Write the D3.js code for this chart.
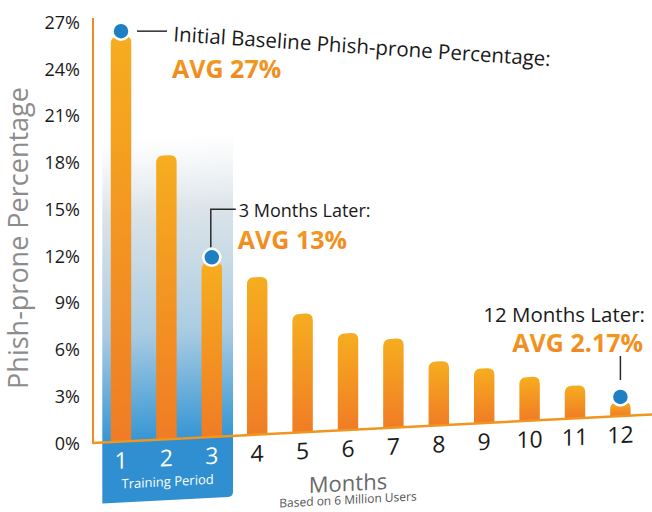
<!DOCTYPE html>
<html>
<head>
<meta charset="utf-8">
<script src="https://cdn.jsdelivr.net/npm/d3@7"></script>
<style>
  body { margin: 0; background: #fff; }
  text { font-family: "Open Sans", "Noto Sans", sans-serif; }
</style>
</head>
<body>
<div id="chart"></div>
<script>
// Data
const months = ["1", "2", "3", "4", "5", "6", "7", "8", "9", "10", "11", "12"];
const phishProne = [26.0, 18.2, 11.2, 10.1, 7.6, 6.2, 5.7, 4.1, 3.5, 2.8, 2.1, 0.9];
const yTicks = [0, 3, 6, 9, 12, 15, 18, 21, 24, 27];
const trainingMonths = ["1", "2", "3"];
const callouts = [
    { month: "1", title: "Initial Baseline Phish-prone Percentage:", avg: "AVG 27%" },
    { month: "3", title: "3 Months Later:", avg: "AVG 13%" },
    { month: "12", title: "12 Months Later:", avg: "AVG 2.17%" }
];

const width = 652, height = 512;
const axisX = 93;          // left edge of the plot
const tilt = -2.93;        // the printed page is slightly skewed
const tanTilt = Math.tan(tilt * Math.PI / 180);

const svg = d3.select("#chart").append("svg")
    .attr("width", width)
    .attr("height", height);

const x = d3.scaleBand().domain(months).range([5.3, 550.1]).paddingInner(0.55).paddingOuter(0.275);
const y = d3.scaleLinear().domain([0, 27]).range([443, 22]);

const defs = svg.append("defs");
const barGrad = defs.append("linearGradient").attr("id", "barGrad")
    .attr("x1", 0).attr("y1", 0).attr("x2", 0).attr("y2", 1);
barGrad.append("stop").attr("offset", "0%").attr("stop-color", "#f6ad1f");
barGrad.append("stop").attr("offset", "100%").attr("stop-color", "#f07c25");

const trainGrad = defs.append("linearGradient").attr("id", "trainGrad")
    .attr("x1", 0).attr("y1", 0).attr("x2", 0).attr("y2", 1);
trainGrad.append("stop").attr("offset", "0%").attr("stop-color", "#e3e8eb").attr("stop-opacity", 0);
trainGrad.append("stop").attr("offset", "25%").attr("stop-color", "#d6e0e6").attr("stop-opacity", 0.9);
trainGrad.append("stop").attr("offset", "65%").attr("stop-color", "#a9cbe2");
trainGrad.append("stop").attr("offset", "100%").attr("stop-color", "#3596d4");

const avgGrad = defs.append("linearGradient").attr("id", "avgGrad")
    .attr("x1", 0).attr("y1", 0).attr("x2", 0).attr("y2", 1);
avgGrad.append("stop").attr("offset", "0%").attr("stop-color", "#f4a21c");
avgGrad.append("stop").attr("offset", "100%").attr("stop-color", "#ee8126");

// Skewed plot group
const plot = svg.append("g")
    .attr("transform", `translate(${axisX},0) skewY(${tilt})`);

// Training period shading
const tx0 = x("1") - 8.5, tx1 = x("3") + x.bandwidth() + 11;
plot.append("rect")
    .attr("x", tx0).attr("y", 140)
    .attr("width", tx1 - tx0).attr("height", y(0) - 140)
    .attr("fill", "url(#trainGrad)");
plot.append("path")
    .attr("d", `M${tx0},${y(0)} H${tx1} V${y(0) + 56} Q${tx1},${y(0) + 61} ${tx1 - 5},${y(0) + 61} H${tx0} Z`)
    .attr("fill", "#2f8fd0");

// Bars with rounded tops
const r = 7;
plot.selectAll(".bar")
    .data(months.map((m, i) => ({ m, v: phishProne[i] })))
    .join("path")
    .attr("class", "bar")
    .attr("fill", "url(#barGrad)")
    .attr("d", d => {
        const x0 = x(d.m), w = x.bandwidth(), top = y(d.v), base = y(0);
        return `M${x0},${base} V${top + r} Q${x0},${top} ${x0 + r},${top} H${x0 + w - r} Q${x0 + w},${top} ${x0 + w},${top + r} V${base} Z`;
    });

// Axis lines
plot.append("line")
    .attr("x1", 0).attr("x2", 0).attr("y1", 18).attr("y2", y(0) + 1)
    .attr("stroke", "#f08a22").attr("stroke-width", 2);
plot.append("line")
    .attr("x1", 0).attr("x2", width - axisX).attr("y1", y(0)).attr("y2", y(0))
    .attr("stroke", "#f0951f").attr("stroke-width", 2.5);

// Month labels
plot.selectAll(".mlabel")
    .data(months)
    .join("text")
    .attr("class", "mlabel")
    .attr("x", d => x(d) + x.bandwidth() / 2)
    .attr("y", y(0) + 27)
    .attr("text-anchor", "middle")
    .attr("font-size", 23)
    .attr("fill", d => trainingMonths.includes(d) ? "#fff" : "#1a1a1a")
    .text(d => d);

plot.append("text")
    .attr("x", (tx0 + tx1) / 2).attr("y", y(0) + 47)
    .attr("text-anchor", "middle")
    .attr("font-size", 13)
    .attr("fill", "#fff")
    .text("Training Period");

plot.append("text")
    .attr("x", 255).attr("y", 504)
    .attr("text-anchor", "middle")
    .attr("font-size", 22)
    .attr("fill", "#6a6a6a")
    .text("Months");
plot.append("text")
    .attr("x", 255).attr("y", 517)
    .attr("text-anchor", "middle")
    .attr("font-size", 12)
    .attr("fill", "#555")
    .text("Based on 6 Million Users");

// Y axis labels (not skewed)
const yAxis = d3.axisLeft(y).tickValues(yTicks).tickFormat(d => d + "%").tickSize(0).tickPadding(0);
svg.append("g")
    .attr("transform", "translate(80,0)")
    .call(yAxis)
    .call(g => g.select(".domain").remove())
    .call(g => g.selectAll("text")
        .attr("font-family", "'Open Sans', sans-serif")
        .attr("font-size", 18)
        .attr("fill", "#1a1a1a")
        .attr("dy", "0.35em"));

svg.append("text")
    .attr("transform", "translate(28,238) rotate(-90)")
    .attr("text-anchor", "middle")
    .attr("font-size", 27)
    .attr("fill", "#8c8c8c")
    .text("Phish-prone Percentage");

// Callout dots and texts
function pagePos(m) {
    const i = months.indexOf(m);
    const lx = x(m) + x.bandwidth() / 2;
    return [axisX + lx, y(phishProne[i]) - 5 + lx * tanTilt];
}

const dots = callouts.map(c => pagePos(c.month));
svg.selectAll(".dot")
    .data(dots)
    .join("circle")
    .attr("class", "dot")
    .attr("cx", d => d[0]).attr("cy", d => d[1])
    .attr("r", 8.5)
    .attr("fill", "#1f7fc3")
    .attr("stroke", "#fff").attr("stroke-width", 2.5);

const lineColor = "#2a2a2a";
// baseline callout
const [d1x, d1y] = dots[0];
svg.append("line")
    .attr("x1", d1x + 16).attr("x2", d1x + 46).attr("y1", d1y).attr("y2", d1y)
    .attr("stroke", lineColor).attr("stroke-width", 1.5);
svg.append("text")
    .attr("transform", `translate(${d1x + 52},${d1y + 10}) rotate(3.8)`)
    .attr("font-size", 20.5).attr("fill", "#1a1a1a")
    .text(callouts[0].title);
svg.append("text")
    .attr("x", d1x + 51).attr("y", d1y + 47)
    .attr("font-size", 25).attr("font-weight", 700).attr("fill", "url(#avgGrad)")
    .text(callouts[0].avg);

// 3 months callout
const [d3x, d3y] = dots[1];
svg.append("path")
    .attr("d", `M${d3x - 1},${d3y - 10} V${d3y - 48} H${d3x + 24}`)
    .attr("fill", "none").attr("stroke", lineColor).attr("stroke-width", 1.5);
svg.append("text")
    .attr("x", d3x + 27).attr("y", d3y - 40)
    .attr("font-size", 18).attr("fill", "#1a1a1a")
    .text(callouts[1].title);
svg.append("text")
    .attr("x", d3x + 26).attr("y", d3y - 8)
    .attr("font-size", 25).attr("font-weight", 700).attr("fill", "url(#avgGrad)")
    .text(callouts[1].avg);

// 12 months callout
const [d12x, d12y] = dots[2];
svg.append("line")
    .attr("x1", d12x).attr("x2", d12x).attr("y1", d12y - 41).attr("y2", d12y - 17)
    .attr("stroke", lineColor).attr("stroke-width", 1.5);
svg.append("text")
    .attr("x", 645).attr("y", d12y - 75)
    .attr("text-anchor", "end")
    .attr("font-size", 20.5).attr("fill", "#1a1a1a")
    .text(callouts[2].title);
svg.append("text")
    .attr("x", 643).attr("y", d12y - 45)
    .attr("text-anchor", "end")
    .attr("font-size", 25).attr("font-weight", 700).attr("fill", "url(#avgGrad)")
    .text(callouts[2].avg);
</script>
</body>
</html>
